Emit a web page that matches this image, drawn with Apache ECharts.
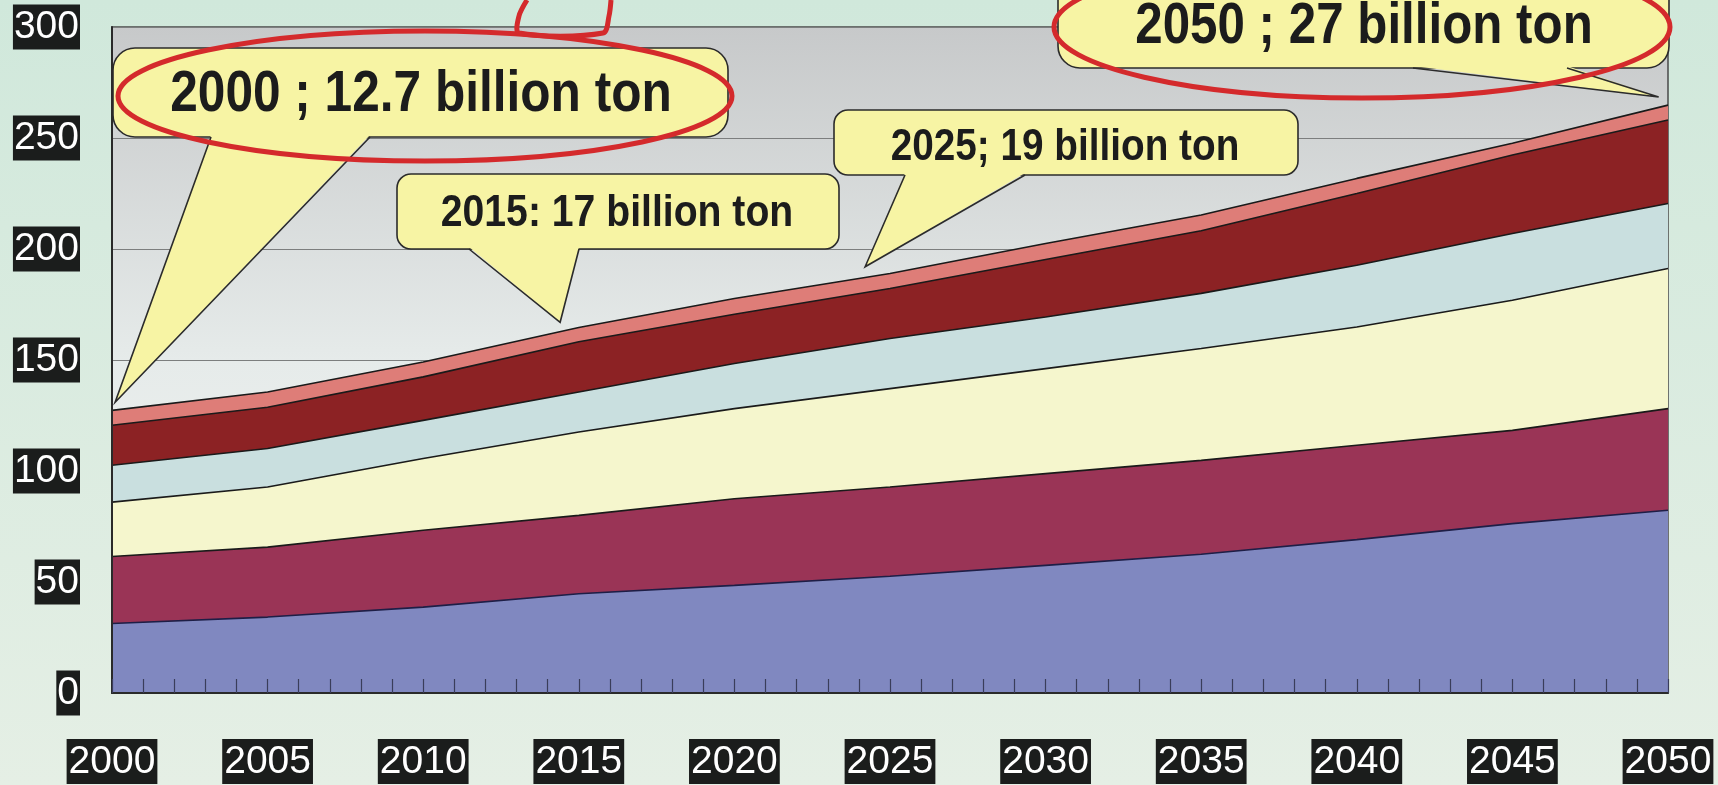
<!DOCTYPE html>
<html><head><meta charset="utf-8">
<script src="https://cdn.jsdelivr.net/npm/echarts@6/dist/echarts.min.js"></script>
<style>html,body{margin:0;padding:0;width:1718px;height:785px;overflow:hidden}#c{width:1718px;height:785px}</style>
</head><body><div id="c"></div>
<script>
// ---- data ----
const years = [2000, 2005, 2010, 2015, 2020, 2025, 2030, 2035, 2040, 2045, 2050];
const blueLayer      = [31.3, 34.2, 38.7, 44.7, 48.5, 52.6, 57.5, 62.5, 69.1, 76.3, 82.3];
const crimsonLayer   = [30.2, 31.5, 34.6, 35.3, 39.0, 40.2, 41.3, 42.3, 42.5, 42.0, 45.8];
const yellowLayer    = [24.5, 27.1, 32.3, 37.6, 40.6, 44.3, 47.3, 50.4, 53.3, 58.6, 63.1];
const lightBlueLayer = [16.6, 17.3, 17.2, 18.0, 20.3, 22.6, 23.3, 24.8, 27.8, 30.1, 29.3];
const darkRedLayer   = [18.0, 18.6, 19.6, 22.6, 22.2, 22.5, 25.9, 28.2, 32.3, 35.3, 37.6];
const pinkLayer      = [6.7, 6.9, 6.7, 6.4, 7.1, 6.8, 7.2, 7.1, 6.8, 5.3, 6.7];
const yTickLabels = [0, 50, 100, 150, 200, 250, 300];
const xTickLabels = [2000, 2005, 2010, 2015, 2020, 2025, 2030, 2035, 2040, 2045, 2050];
const calloutTexts = ['2000 ; 12.7 billion ton', '2015: 17 billion ton', '2025; 19 billion ton', '2050 ; 27 billion ton'];
const calloutTips = [[2000.1, 131], [2014.4, 167], [2024.2, 192], [2049.7, 268.5]];

const FONT = "'Liberation Sans', Arial, sans-serif";
const layers = [
  {name: 'Layer 1', data: blueLayer, color: '#8088c0', line: '#1e1e46'},
  {name: 'Layer 2', data: crimsonLayer, color: '#9a3456', line: '#1a1a1a'},
  {name: 'Layer 3', data: yellowLayer, color: '#f5f6cd', line: '#1a1a1a'},
  {name: 'Layer 4', data: lightBlueLayer, color: '#c9dfdf', line: '#1a1a1a'},
  {name: 'Layer 5', data: darkRedLayer, color: '#8c2224', line: '#1a1a1a'},
  {name: 'Layer 6', data: pinkLayer, color: '#de7d78', line: '#1a1a1a'}
];
// cumulative tops of the stacked layers
const running = years.map(() => 0);
const stacked = layers.map(l => {
  const top = l.data.map((v, i) => (running[i] = +(running[i] + v).toFixed(2)));
  return Object.assign({}, l, {top});
});

const yMin = yTickLabels[0], yMax = yTickLabels[yTickLabels.length - 1];
const chart = echarts.init(document.getElementById('c'), null, {renderer: 'canvas'});
const option = {
  animation: false,
  backgroundColor: {type: 'linear', x: 0, y: 0, x2: 0, y2: 1,
    colorStops: [{offset: 0, color: '#d0e8db'}, {offset: 1, color: '#e5efe5'}]},
  grid: {left: 112, right: 50, top: 27, bottom: 92, show: true,
    backgroundColor: {type: 'linear', x: 0, y: 0, x2: 0, y2: 1,
      colorStops: [{offset: 0, color: '#c7c9ca'}, {offset: 0.5, color: '#e6ebea'}, {offset: 1, color: '#f2f5f2'}]},
    borderColor: '#4a4a4a', borderWidth: 1.5},
  xAxis: {
    type: 'value', min: xTickLabels[0], max: xTickLabels[xTickLabels.length - 1], interval: 5,
    z: 20,
    axisLine: {show: true, lineStyle: {color: '#2a2a2a', width: 2}},
    axisTick: {show: true, inside: true, length: 14, lineStyle: {color: '#3a3d5a', width: 1.2}},
    minorTick: {show: true, splitNumber: 5, length: 14, lineStyle: {color: '#3a3d5a', width: 1.2}},
    splitLine: {show: false},
    axisLabel: {
      margin: 46, color: '#ffffff', fontFamily: FONT, fontSize: 39, lineHeight: 39,
      backgroundColor: '#1b1d1c', padding: [4, 2, 2, 2],
      formatter: v => String(v)
    }
  },
  yAxis: [{
    type: 'value', min: yMin, max: yMax, interval: 50,
    axisLine: {show: false},
    axisTick: {show: false},
    splitLine: {show: true, lineStyle: {color: '#7c7e7e', width: 1}},
    axisLabel: {
      margin: 32, color: '#ffffff', fontFamily: FONT, fontSize: 39, lineHeight: 39,
      backgroundColor: '#1b1d1c', padding: [4, 1, 2, 1],
      formatter: v => String(v)
    }
  }, {
    type: 'value', min: yMin, max: yMax, interval: 50, position: 'left', z: 20,
    axisLine: {show: true, onZero: false, lineStyle: {color: '#2a2a2a', width: 2}},
    axisTick: {show: false}, axisLabel: {show: false}, splitLine: {show: false}
  }],
  // draw top layer first; each lower cumulative area paints over it
  series: stacked.slice().reverse().map((l, k) => ({
    name: l.name, type: 'line', symbol: 'none', smooth: false,
    data: years.map((y, i) => [y, l.top[i]]),
    lineStyle: {color: l.line, width: 1.6},
    areaStyle: {color: l.color, opacity: 1, origin: 'start'},
    z: 2 + k
  }))
};
chart.setOption(option);

// ---- callouts (annotation layout) ----
const YEL = '#f7f4a4';
const boxes = [
  {x: 113, y: 48, w: 615, h: 89, r: 22, base: [211, 370], tx: 421, ty: 95, size: 58, sx: 0.855},
  {x: 397, y: 174, w: 442, h: 75, r: 14, base: [469, 579], tx: 617, ty: 214, size: 45, sx: 0.87},
  {x: 834, y: 110, w: 464, h: 65, r: 14, base: [905, 1025], tx: 1065, ty: 148, size: 44, sx: 0.88},
  {x: 1058, y: -30, w: 611, h: 98, r: 22, base: [1413, 1567], tx: 1364, ty: 27, size: 58, sx: 0.85}
];
const els = [];
boxes.forEach((b, i) => {
  const tip = chart.convertToPixel({gridIndex: 0}, calloutTips[i]);
  const by = b.y + b.h;
  els.push({type: 'rect', z: 40, shape: {x: b.x, y: b.y, width: b.w, height: b.h, r: b.r},
    style: {fill: YEL, stroke: '#2b2b2b', lineWidth: 1.6}});
  els.push({type: 'polygon', z: 41, shape: {points: [[b.base[0], by - 2], [b.base[1], by - 2], tip]},
    style: {fill: YEL, stroke: null}});
  els.push({type: 'polyline', z: 42, shape: {points: [[b.base[0], by], tip, [b.base[1], by]]},
    style: {fill: null, stroke: '#2b2b2b', lineWidth: 1.6}});
  els.push({type: 'text', z: 43, x: b.tx, y: b.ty, scaleX: b.sx,
    style: {text: calloutTexts[i], fill: '#1c1c1c', font: 'bold ' + b.size + 'px ' + FONT,
      textAlign: 'center', textVerticalAlign: 'middle', align: 'center', verticalAlign: 'middle'}});
});
// red hand-drawn marks
els.push({type: 'ellipse', z: 50, shape: {cx: 425, cy: 96, rx: 307, ry: 65},
  style: {fill: null, stroke: '#d42a2c', lineWidth: 5}});
els.push({type: 'ellipse', z: 50, shape: {cx: 1362, cy: 27, rx: 308, ry: 71},
  style: {fill: null, stroke: '#d42a2c', lineWidth: 5}});
els.push({type: 'polyline', z: 50, shape: {points: [[527, 0], [519, 16], [519, 33], [603, 33], [609, 16], [611, 0]], smooth: 0.3},
  style: {fill: null, stroke: '#d42a2c', lineWidth: 5}});
chart.setOption({graphic: {elements: els}});
</script></body></html>
